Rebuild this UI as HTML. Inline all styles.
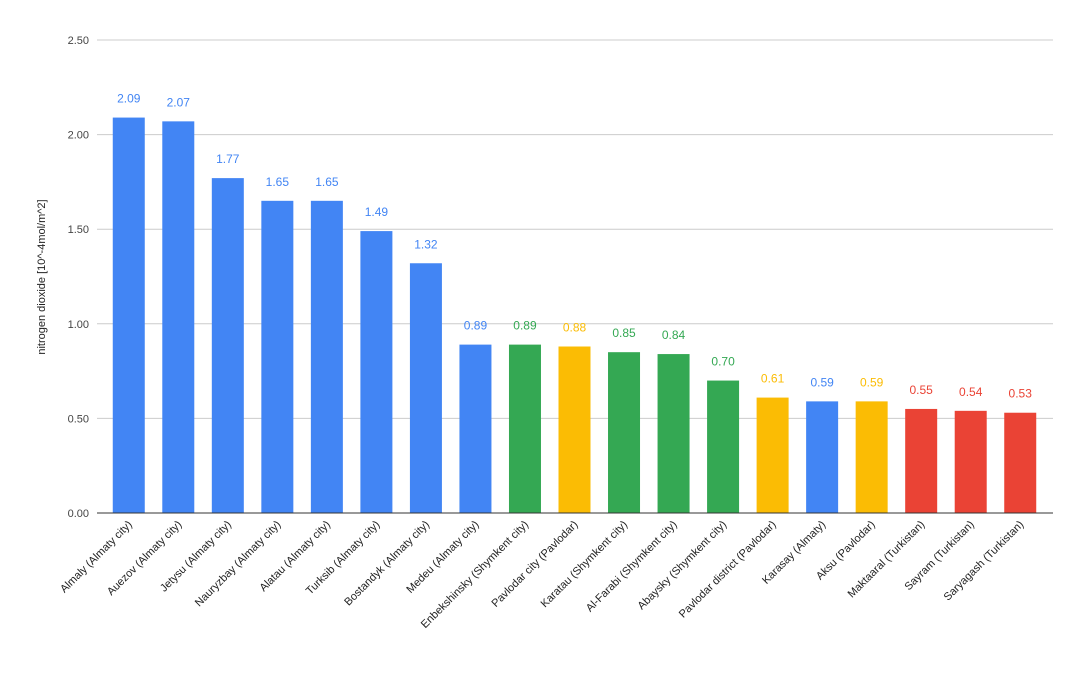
<!DOCTYPE html>
<html><head><meta charset="utf-8"><style>
body{margin:0;background:#fff;font-family:"Liberation Sans",Arial,sans-serif}
</style></head><body>
<svg width="1087" height="673" xmlns="http://www.w3.org/2000/svg" id="chart"></svg>
<script>
const categories=["Almaly (Almaty city)","Auezov (Almaty city)","Jetysu (Almaty city)","Nauryzbay (Almaty city)","Alatau (Almaty city)","Turksib (Almaty city)","Bostandyk (Almaty city)","Medeu (Almaty city)","Enbekshinsky (Shymkent city)","Pavlodar city (Pavlodar)","Karatau (Shymkent city)","Al-Farabi (Shymkent city)","Abaysky (Shymkent city)","Pavlodar district (Pavlodar)","Karasay (Almaty)","Aksu (Pavlodar)","Maktaaral (Turkistan)","Sayram (Turkistan)","Saryagash (Turkistan)"];
const values=[2.09,2.07,1.77,1.65,1.65,1.49,1.32,0.89,0.89,0.88,0.85,0.84,0.70,0.61,0.59,0.59,0.55,0.54,0.53];
const regions=["b","b","b","b","b","b","b","b","g","y","g","g","g","y","b","y","r","r","r"];
const yTicks=[0,0.5,1,1.5,2,2.5];
const colorMap={b:"#4285F4",g:"#34A853",y:"#FBBC04",r:"#EA4335"};
const svg=document.getElementById('chart');
const NS="http://www.w3.org/2000/svg";
const x0=104,x1=1045,yTop=40,yBot=513,yMax=2.5;
const band=(x1-x0)/categories.length,bw=32;
const y=v=>yBot-(v/yMax)*(yBot-yTop);
const xc=i=>x0+band*(i+0.5);
function mk(tag,attrs,txt){const e=document.createElementNS(NS,tag);for(const k in attrs)e.setAttribute(k,attrs[k]);if(txt!==undefined)e.textContent=txt;svg.appendChild(e);return e;}
yTicks.forEach(t=>{
 const g=mk('line',{x1:97,x2:1053,y1:y(t),y2:y(t),stroke:t===0?'#333':'#ccc','stroke-width':1});
 
 
 const l=mk('text',{x:89,y:y(t)+4,'text-anchor':'end','font-size':11,fill:'#444'},t.toFixed(2));
 
 
});
const yt=mk('text',{x:0,y:0,'font-size':11,fill:'#222','text-anchor':'middle',transform:'translate(45,277) rotate(-90)'},'nitrogen dioxide [10^-4mol/m^2]');


values.forEach((v,i)=>{
 const c=colorMap[regions[i]];
 const r=mk('rect',{x:xc(i)-bw/2,y:y(v),width:bw,height:yBot-y(v),fill:c});
 
 
 const t=mk('text',{x:xc(i),y:y(v)-15,'text-anchor':'middle','font-size':12,fill:c},v.toFixed(2));
 
 
 const cl=mk('text',{x:0,y:0,'text-anchor':'end','font-size':11,fill:'#222',transform:`translate(${xc(i)+4},${yBot+12}) rotate(-45)`},categories[i]);
 
 
});
mk('line',{x1:97,x2:1053,y1:yBot,y2:yBot,stroke:'#333','stroke-width':1});
</script>
</body></html>
